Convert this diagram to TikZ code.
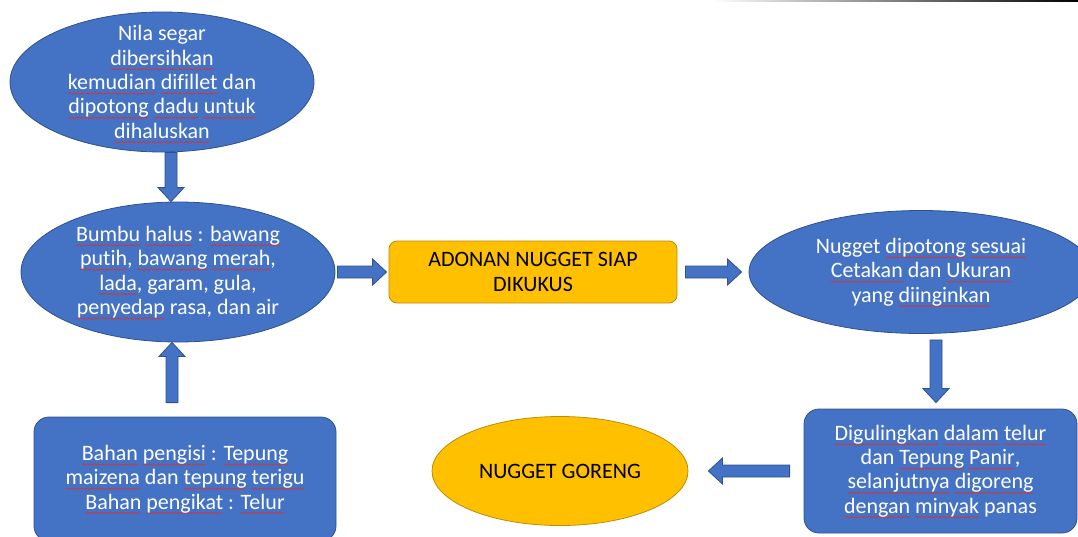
\documentclass[tikz,border=0pt]{standalone}
\usepackage{fontspec}
\setmainfont{Carlito}[Ligatures=NoCommon]
\usepackage{xcolor}
\usepackage{tikz}
\usetikzlibrary{
  calc,
  shapes.geometric,
  decorations.pathmorphing,
}

\definecolor{nodeblue}{HTML}{4472C4}
\definecolor{edgeblue}{HTML}{2F528F}
\definecolor{nodegold}{HTML}{FFC000}
\definecolor{edgegold}{HTML}{BC8C00}
\definecolor{sqred}{HTML}{E0302A}

% red wavy spell-check mark under a word
\newcommand{\sq}[1]{\setbox0\hbox{#1}\rlap{\tikz[overlay,x=1pt,y=1pt]
  \draw[sqred, sharp corners, fill=none, line width=0.55pt, decorate,
    decoration={snake, amplitude=0.6pt, segment length=2.6pt}]
  (0pt,-4pt) -- (\the\wd0,-4pt);}\box0\relax}

\begin{document}
\begin{tikzpicture}[
  x=1pt, y=-1pt,
  font=\fontsize{22}{24.3}\selectfont,
  every node/.style={align=center, inner sep=0pt},
  bluell/.style={ellipse, fill=nodeblue, draw=edgeblue, line width=0.8pt,
    text=white, inner xsep=-10pt, inner ysep=-40pt},
  bluebox/.style={rectangle, rounded corners=15pt, fill=nodeblue,
    draw=edgeblue, line width=0.8pt, text=white},
  goldbox/.style={rectangle, rounded corners=8pt, fill=nodegold,
    draw=edgegold, line width=0.8pt},
  goldell/.style={ellipse, fill=nodegold, draw=edgegold, line width=0.8pt},
  blockarrow/.style={fill=nodeblue, draw=edgeblue, line width=0.8pt,
    to path={let \p1=($(\tikztotarget)!14pt!(\tikztostart)$) in
      ($(\tikztostart)!6pt!90:(\tikztotarget)$)
      -- ($(\p1)!6pt!90:(\tikztotarget)$)
      -- ($(\p1)!13pt!90:(\tikztotarget)$)
      -- (\tikztotarget)
      -- ($(\p1)!13pt!-90:(\tikztotarget)$)
      -- ($(\p1)!6pt!-90:(\tikztotarget)$)
      -- ($(\tikztostart)!6pt!-90:(\tikztotarget)$)
      -- cycle}},
]

\useasboundingbox (0,0) rectangle (1078,536);
\shade[left color=white, right color=black] (712,0) rectangle (1078,1.5);

%% Left column
\node[bluell, minimum width=304pt, minimum height=140pt] (fish) at (162,82)
  {Nila segar\\ \sq{dibersihkan}\\ \sq{kemudian} \sq{difillet} dan\\
   \sq{dipotong} \sq{dadu} \sq{untuk}\\ \sq{dihaluskan}};
\node[bluell, minimum width=314pt, minimum height=140pt] (bumbu) at (178,272)
  {\sq{Bumbu} \sq{halus} : \sq{bawang}\\ \sq{putih}, \sq{bawang} \sq{merah},\\
   \sq{lada}, garam, gula,\\ \sq{penyedap} rasa, dan air};
\node[bluebox, minimum width=302pt, minimum height=124pt] (pengisi) at (185,479)
  {\sq{Bahan} \sq{pengisi} : \sq{Tepung}\\ \sq{maizena} dan \sq{tepung} \sq{terigu}\\
   \sq{Bahan} \sq{pengikat} : \sq{Telur}};

%% Middle and right
\node[goldbox, minimum width=288pt, minimum height=62pt] (adonan) at (533,272)
  {ADONAN NUGGET SIAP\\ DIKUKUS};
\node[bluell, minimum width=344pt, minimum height=123pt] (potong) at (921,272)
  {Nugget \sq{dipotong} \sq{sesuai}\\ \sq{Cetakan} dan \sq{Ukuran}\\
   yang \sq{diinginkan}};
\node[bluebox, minimum width=273pt, minimum height=124pt] (gulung) at (940.5,471)
  {\sq{Digulingkan} \sq{dalam} \sq{telur}\\ dan \sq{Tepung} \sq{Panir},\\
   \sq{selanjutnya} \sq{digoreng}\\ \sq{dengan} \sq{minyak} panas};
\node[goldell, minimum width=256pt, minimum height=109pt] (goreng) at (560,471)
  {NUGGET GORENG};

%% Block arrows
\draw[blockarrow] ([xshift=9pt]fish.south) to ([xshift=-7pt]bumbu.north);
\draw[blockarrow] ([xshift=-13pt,yshift=14pt]pengisi.north) to ([xshift=-6pt]bumbu.south);
\draw[blockarrow] ([xshift=2pt]bumbu.east) to ([xshift=-2pt]adonan.west);
\draw[blockarrow] ([xshift=8pt]adonan.east) to ([xshift=-7pt]potong.west);
\draw[blockarrow] ([xshift=15pt,yshift=-6pt]potong.south) to ([xshift=-4.5pt,yshift=6pt]gulung.north);
\draw[blockarrow] ([xshift=-14pt]gulung.west) to ([xshift=20pt]goreng.east);

\end{tikzpicture}
\end{document}
